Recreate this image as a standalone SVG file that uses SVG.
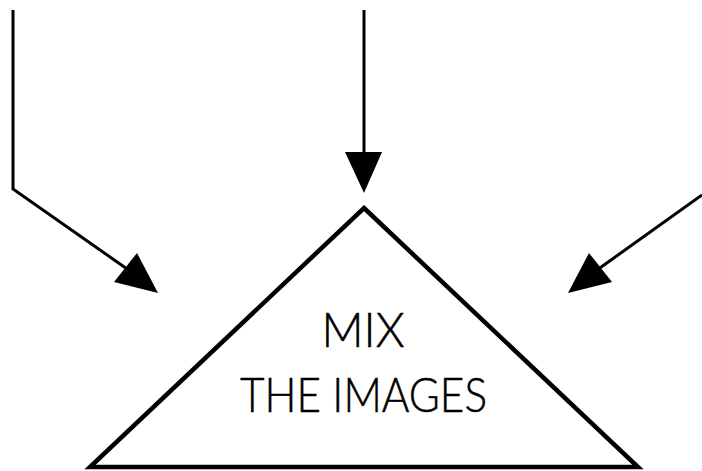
<svg xmlns="http://www.w3.org/2000/svg" width="702" height="471" viewBox="0 0 702 471">
<style>
.ln{fill:none;stroke:#000;stroke-width:3}
.tri{fill:#fff;stroke:#000;stroke-width:4.5;stroke-linejoin:miter}
.lbl{font-family:Lato,"Noto Sans",sans-serif;font-weight:300;font-size:47px;fill:#000;stroke:#000;stroke-width:0.5;text-anchor:middle}
</style>
<rect width="702" height="471" fill="#fff"/>
<g id="connectors">
<polyline class="ln" points="13,10 13,189 130,271"/>
<polygon points="114,282 137,253 158,293" fill="#000"/>
<line class="ln" x1="364" y1="10" x2="364" y2="154"/>
<polygon points="345,152 382,152 364,193" fill="#000"/>
<line class="ln" x1="702" y1="195" x2="597" y2="270"/>
<polygon points="589,253 612,282 568,293" fill="#000"/>
</g>
<g id="mix">
<polygon class="tri" points="364,208 638,467 90,467"/>
<text class="lbl" x="363" y="347" textLength="83" lengthAdjust="spacingAndGlyphs">MIX</text>
<text class="lbl" x="363.5" y="412" textLength="247" lengthAdjust="spacingAndGlyphs">THE IMAGES</text>
</g>
</svg>
